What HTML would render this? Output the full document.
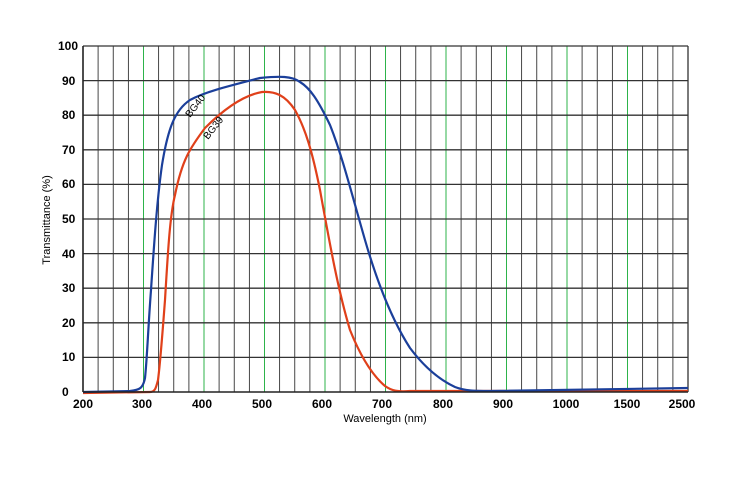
<!DOCTYPE html>
<html><head><meta charset="utf-8"><style>body{margin:0;background:#fff}svg{display:block}text{font-family:"Liberation Sans",sans-serif}</style></head><body>
<svg width="750" height="478" viewBox="0 0 750 478">
<g stroke="#333" stroke-width="0.9">
<line x1="98.1" y1="46" x2="98.1" y2="392"/><line x1="113.25" y1="46" x2="113.25" y2="392"/><line x1="128.4" y1="46" x2="128.4" y2="392"/>
<line x1="158.6" y1="46" x2="158.6" y2="392"/><line x1="173.75" y1="46" x2="173.75" y2="392"/><line x1="188.9" y1="46" x2="188.9" y2="392"/>
<line x1="219.1" y1="46" x2="219.1" y2="392"/><line x1="234.25" y1="46" x2="234.25" y2="392"/><line x1="249.4" y1="46" x2="249.4" y2="392"/>
<line x1="279.6" y1="46" x2="279.6" y2="392"/><line x1="294.75" y1="46" x2="294.75" y2="392"/><line x1="309.9" y1="46" x2="309.9" y2="392"/>
<line x1="340.1" y1="46" x2="340.1" y2="392"/><line x1="355.25" y1="46" x2="355.25" y2="392"/><line x1="370.4" y1="46" x2="370.4" y2="392"/>
<line x1="400.6" y1="46" x2="400.6" y2="392"/><line x1="415.75" y1="46" x2="415.75" y2="392"/><line x1="430.9" y1="46" x2="430.9" y2="392"/>
<line x1="461.1" y1="46" x2="461.1" y2="392"/><line x1="476.25" y1="46" x2="476.25" y2="392"/><line x1="491.4" y1="46" x2="491.4" y2="392"/>
<line x1="521.6" y1="46" x2="521.6" y2="392"/><line x1="536.75" y1="46" x2="536.75" y2="392"/><line x1="551.9" y1="46" x2="551.9" y2="392"/>
<line x1="582.1" y1="46" x2="582.1" y2="392"/><line x1="597.25" y1="46" x2="597.25" y2="392"/><line x1="612.4" y1="46" x2="612.4" y2="392"/>
<line x1="642.6" y1="46" x2="642.6" y2="392"/><line x1="657.75" y1="46" x2="657.75" y2="392"/><line x1="672.9" y1="46" x2="672.9" y2="392"/>
<line x1="688" y1="46" x2="688" y2="392" stroke-width="1.3"/>
</g>
<g stroke="#2db34a" stroke-width="1">
<line x1="143.5" y1="46" x2="143.5" y2="392"/><line x1="204" y1="46" x2="204" y2="392"/><line x1="264.5" y1="46" x2="264.5" y2="392"/>
<line x1="325" y1="46" x2="325" y2="392"/><line x1="385.5" y1="46" x2="385.5" y2="392"/><line x1="446" y1="46" x2="446" y2="392"/>
<line x1="506.5" y1="46" x2="506.5" y2="392"/><line x1="567" y1="46" x2="567" y2="392"/><line x1="627.5" y1="46" x2="627.5" y2="392"/>
</g>
<g stroke="#333" stroke-width="1.3">
<line x1="83" y1="46" x2="688" y2="46"/><line x1="83" y1="80.6" x2="688" y2="80.6"/><line x1="83" y1="115.2" x2="688" y2="115.2"/>
<line x1="83" y1="149.8" x2="688" y2="149.8"/><line x1="83" y1="184.4" x2="688" y2="184.4"/><line x1="83" y1="219" x2="688" y2="219"/>
<line x1="83" y1="253.6" x2="688" y2="253.6"/><line x1="83" y1="288.2" x2="688" y2="288.2"/><line x1="83" y1="322.8" x2="688" y2="322.8"/>
<line x1="83" y1="357.4" x2="688" y2="357.4"/>
</g>
<g font-size="12" font-weight="bold">
<text x="58" y="50">100</text><text x="62" y="85">90</text><text x="62" y="119">80</text><text x="62" y="154">70</text>
<text x="62" y="188">60</text><text x="62" y="223">50</text><text x="62" y="258">40</text><text x="62" y="292">30</text>
<text x="62" y="327">20</text><text x="62" y="361">10</text><text x="62" y="396">0</text>
</g>
<g font-size="12" font-weight="bold" text-anchor="middle">
<text x="83" y="408">200</text><text x="142" y="408">300</text><text x="202" y="408">400</text><text x="262" y="408">500</text>
<text x="322" y="408">600</text><text x="382" y="408">700</text><text x="443" y="408">800</text><text x="503" y="408">900</text>
<text x="566" y="408">1000</text><text x="627" y="408">1500</text><text x="682" y="408">2500</text>
</g>
<text x="385" y="422" font-size="11" text-anchor="middle">Wavelength (nm)</text>
<text transform="translate(50,220) rotate(-90)" font-size="11" text-anchor="middle">Transmittance (%)</text>
<path d="M83,393 L150,392 C155,392 156,388 158,380 C160,365 162,340 165,300 C168,250 170,215 175,195 C182,160 190,148 205,128 C225,108 245,95 262,92 C275,91 285,95 295,110 C305,128 312,150 320,190 C330,245 338,290 350,330 C360,355 372,375 385,386 C392,391 398,392 410,391 L688,391" fill="none" stroke="#e0401a" stroke-width="2.2"/>
<path d="M83,392 L130,391 C140,390 143,388 145,378 C147,360 148,330 151,290 C154,245 157,200 162,165 C168,128 175,110 190,100 C205,92 225,87 260,78 C280,76 292,76 300,82 C310,88 318,100 330,125 C342,155 352,195 365,240 C378,285 392,320 410,348 C425,368 440,380 455,387 C465,391 475,391 490,391 L688,388" fill="none" stroke="#1b3f9a" stroke-width="2.2"/>
<line x1="83" y1="46" x2="83" y2="392" stroke="#222" stroke-width="1.6"/>
<line x1="83" y1="392" x2="688" y2="392" stroke="#222" stroke-width="1.6"/>
<text transform="translate(190,118) rotate(-52)" font-size="10">BG40</text>
<text transform="translate(208,140) rotate(-52)" font-size="10">BG39</text>
</svg>
</body></html>
